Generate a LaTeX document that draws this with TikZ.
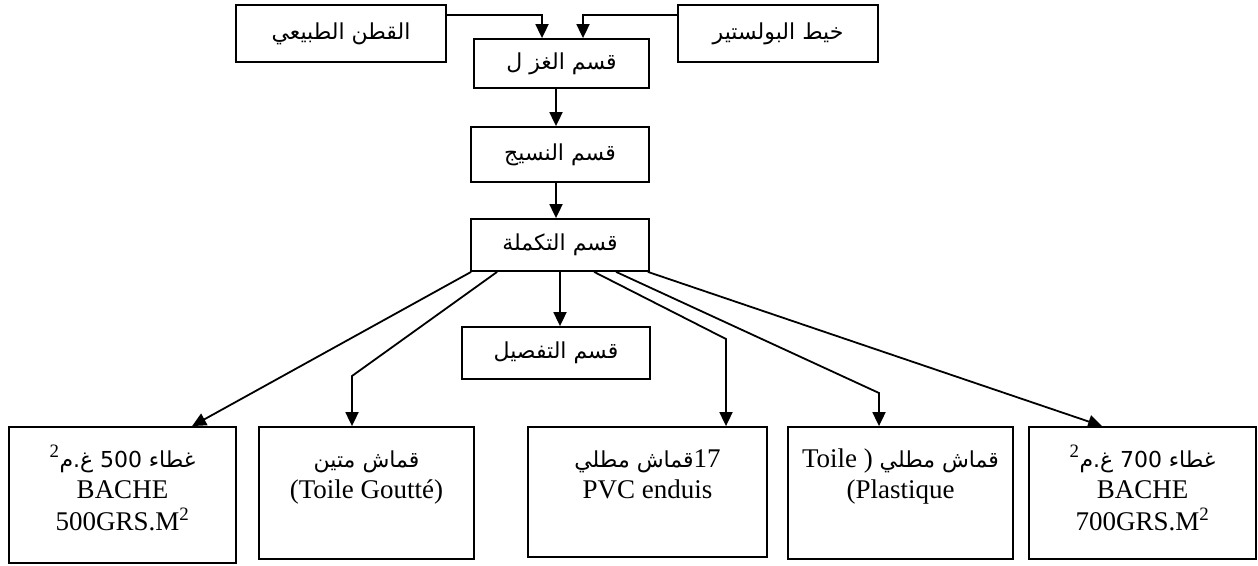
\documentclass[tikz,border=0pt]{standalone}
\usepackage{fontspec}
\setmainfont{Liberation Serif}
\newfontfamily\arabicfont[Script=Arabic]{DejaVu Sans}
\TeXXeTstate=1
\usetikzlibrary{arrows.meta,calc}
\newcommand\arf{\arabicfont\fontsize{22}{26}\selectfont}
\newcommand\arb[1]{{\arf\beginR #1\endR}}
\newcommand\sq{\textsuperscript{2}}
\begin{document}
\begin{tikzpicture}[x=1pt,y=-1pt,line width=1.8pt,
  box/.style={draw,inner sep=0pt},
  arr/.style={-{Triangle[length=14pt,width=13pt]}},
  lbl/.style={anchor=north,inner sep=0pt,align=center,font=\fontsize{27}{31.5}\selectfont}]
\useasboundingbox (0,0) rectangle (1258,565);
% top row
\node[box,minimum width=210pt,minimum height=57pt] (A) at (341,33.5) {\arb{القطن الطبيعي}};
\node[box,minimum width=200pt,minimum height=57pt] (B) at (778,33.5) {\arb{خيط البولستير}};
\node[box,minimum width=175pt,minimum height=49pt] (C) at (561.5,63.5) {\arb{قسم الغز ل}};
\node[box,minimum width=178pt,minimum height=55pt] (D) at (560,154.5) {\arb{قسم النسيج}};
\node[box,minimum width=178pt,minimum height=52pt] (E) at (560,245) {\arb{قسم التكملة}};
\node[box,minimum width=188pt,minimum height=52pt] (F) at (556,353) {\arb{قسم التفصيل}};
% bottom boxes
\node[box,minimum width=227pt,minimum height=136pt] (b1) at (122.5,495) {};
\node[box,minimum width=215pt,minimum height=132pt] (b2) at (366.5,493) {};
\node[box,minimum width=239pt,minimum height=130pt] (b3) at (647.5,492) {};
\node[box,minimum width=225pt,minimum height=132pt] (b4) at (900.5,493) {};
\node[box,minimum width=227pt,minimum height=132pt] (b5) at (1142.5,493) {};
% texts of bottom boxes
\node[lbl] (t1) at ($(b1.north)+(0,10)$) {\rule{0pt}{30pt}\sq\arb{غ.م} {\arf 500} \arb{غطاء}\\BACHE\\500GRS.M\sq};
\node[lbl] (t2) at ($(b2.north)+(0,10)$) {\rule{0pt}{30pt}\arb{قماش متين}\\(Toile Goutté)};
\node[lbl] (t3) at ($(b3.north)+(0,10)$) {\rule{0pt}{30pt}\arb{قماش مطلي}17\\PVC enduis};
\node[lbl] (t4) at ($(b4.north)+(0,10)$) {\rule{0pt}{30pt}Toile ) \arb{قماش مطلي}\\(Plastique};
\node[lbl] (t5) at ($(b5.north)+(0,10)$) {\rule{0pt}{30pt}\sq\arb{غ.م} {\arf 700} \arb{غطاء}\\BACHE\\700GRS.M\sq};
% connectors
\draw[arr] ($(A.north east)+(0,11)$) -| ($(C.north)+(-19.5,0)$);
\draw[arr] ($(B.north west)+(0,11)$) -| ($(C.north)+(21.5,0)$);
\draw[arr] ($(C.south)+(-5.5,0)$) coordinate (c1) -- (c1 |- D.north);
\draw[arr] ($(D.south)+(-4,0)$) coordinate (d1) -- (d1 |- E.north);
\draw[arr] (E.south) -- (E.south |- F.north);
\coordinate (k2) at (352,376);
\coordinate (k3) at (726,339);
\coordinate (k4) at (879,393);
\draw[arr] ($(E.south west)+(1,0)$) -- ($(b1.north west)+(184,0)$);
\draw[arr] ($(E.south west)+(27,0)$) -- (k2) -- (k2 |- b2.north);
\draw[arr] ($(E.south west)+(124,0)$) -- (k3) -- (k3 |- b3.north);
\draw[arr] ($(E.south west)+(146,0)$) -- (k4) -- (k4 |- b4.north);
\draw[arr] ($(E.south east)+(-2,0)$) -- ($(b5.north west)+(74,0)$);
\end{tikzpicture}
\end{document}
